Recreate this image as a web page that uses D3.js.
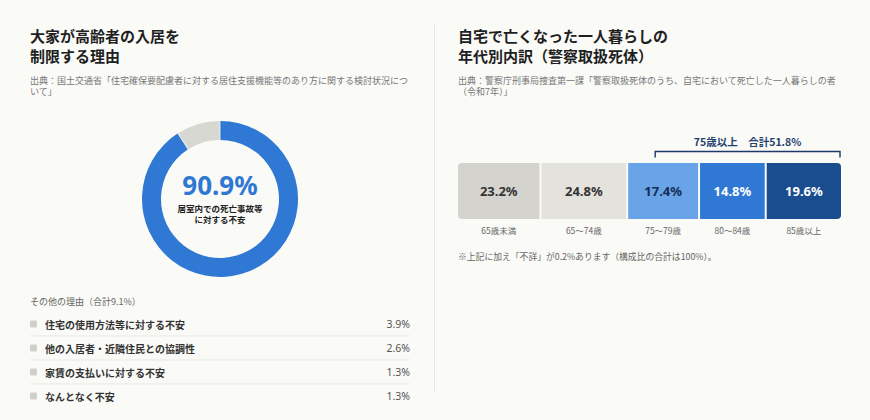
<!DOCTYPE html>
<html lang="ja">
<head>
<meta charset="utf-8">
<script src="https://cdn.jsdelivr.net/npm/d3@7"></script>
<style>
  html, body { margin: 0; padding: 0; background: #fafaf7; }
  svg { display: block; font-family: "Noto Sans CJK JP", "Noto Sans", sans-serif; }
</style>
</head>
<body>
<div id="chart"></div>
<script>
// left panel: donut + other reasons
const mainShare = 90.9;
const otherShare = 9.1;
const otherReasons = ["住宅の使用方法等に対する不安", "他の入居者・近隣住民との協調性", "家賃の支払いに対する不安", "なんとなく不安"];
const otherValues = [3.9, 2.6, 1.3, 1.3];

// right panel: age breakdown
const ageGroups = ["65歳未満", "65〜74歳", "75〜79歳", "80〜84歳", "85歳以上"];
const ageValues = [23.2, 24.8, 17.4, 14.8, 19.6];
const unknownShare = 0.2;
const bracketFrom = 2; // 75歳以上

const width = 870, height = 420;
const svg = d3.select("#chart").append("svg")
  .attr("width", width).attr("height", height);

svg.append("rect").attr("width", width).attr("height", height).attr("fill", "#fafaf7");

// divider
svg.append("line")
  .attr("x1", 434.5).attr("x2", 434.5).attr("y1", 24).attr("y2", 392)
  .attr("stroke", "#e6e6e1").attr("stroke-width", 1);

function titleBlock(x, lines, source) {
  const g = svg.append("g");
  g.selectAll(".t").data(lines).join("text")
    .attr("x", x).attr("y", (d, i) => 42 + i * 20)
    .attr("font-size", 15).attr("font-weight", 700).attr("fill", "#1f1f1f")
    .text(d => d);
  g.selectAll(".s").data(source).join("text")
    .attr("x", x).attr("y", (d, i) => 83.5 + i * 11.5)
    .attr("font-size", 9).attr("fill", "#777")
    .text(d => d);
}

titleBlock(30, ["大家が高齢者の入居を", "制限する理由"],
  ["出典：国土交通省「住宅確保要配慮者に対する居住支援機能等のあり方に関する検討状況につ", "いて」"]);
titleBlock(458, ["自宅で亡くなった一人暮らしの", "年代別内訳（警察取扱死体）"],
  ["出典：警察庁刑事局捜査第一課「警察取扱死体のうち、自宅において死亡した一人暮らしの者", "（令和7年）」"]);

// ---- donut ----
const cx = 220, cy = 199;
const pie = d3.pie().sort(null).value(d => d.v);
const arcs = pie([{ k: "main", v: mainShare }, { k: "other", v: otherShare }]);
const arc = d3.arc().innerRadius(59).outerRadius(78).padAngle(0.008);
const donut = svg.append("g").attr("transform", `translate(${cx},${cy})`);
donut.selectAll("path").data(arcs).join("path")
  .attr("d", arc)
  .attr("fill", d => d.data.k === "main" ? "#2f78d4" : "#d8d8d3");

donut.append("text")
  .attr("y", -14).attr("text-anchor", "middle").attr("dominant-baseline", "central")
  .attr("font-size", 26).attr("font-weight", 700).attr("fill", "#2f78d2")
  .attr("font-family", "'Noto Sans', sans-serif")
  .text(d3.format(".1f")(mainShare) + "%");
donut.selectAll(".cap").data(["居室内での死亡事故等", "に対する不安"]).join("text")
  .attr("y", (d, i) => 9 + i * 10.5).attr("text-anchor", "middle").attr("dominant-baseline", "central")
  .attr("font-size", 8.5).attr("font-weight", 700).attr("fill", "#222")
  .text(d => d);

// ---- other reasons list ----
const listX0 = 30, listX1 = 410;
svg.append("text")
  .attr("x", listX0).attr("y", 301).attr("dominant-baseline", "central")
  .attr("font-size", 9).attr("fill", "#666")
  .text(`その他の理由（合計${otherShare}%）`);

const rowY = d3.scalePoint().domain(otherReasons).range([324, 396]);
const rows = svg.selectAll(".row").data(otherReasons).join("g")
  .attr("transform", d => `translate(0,${rowY(d)})`);
rows.append("rect")
  .attr("x", listX0).attr("y", -3.5).attr("width", 7).attr("height", 7).attr("rx", 1.5)
  .attr("fill", "#cfcfcb");
rows.append("text")
  .attr("x", 45).attr("dominant-baseline", "central")
  .attr("font-size", 10).attr("font-weight", 700).attr("fill", "#333")
  .text(d => d);
rows.append("text")
  .attr("x", listX1).attr("text-anchor", "end").attr("dominant-baseline", "central")
  .attr("font-size", 10.5).attr("fill", "#555")
  .attr("font-family", "'Noto Sans', sans-serif")
  .text((d, i) => otherValues[i].toFixed(1) + "%");
rows.filter((d, i) => i < otherReasons.length - 1).append("line")
  .attr("x1", listX0).attr("x2", listX1).attr("y1", 12).attr("y2", 12)
  .attr("stroke", "#e7e7e3").attr("stroke-width", 1);

// ---- stacked age bar ----
const barX0 = 458, barX1 = 841, barTop = 163, barH = 56;
const gap = 2, base = 35;
const n = ageValues.length;
const x = d3.scaleLinear()
  .domain([0, d3.sum(ageValues)])
  .range([0, barX1 - barX0 - gap * (n - 1) - base * n]);

const segs = [];
let pos = barX0;
ageValues.forEach((v, i) => {
  const w = base + x(v);
  segs.push({ name: ageGroups[i], v, x: pos, w });
  pos += w + gap;
});

const barColors = ["#d4d3ce", "#e3e2dd", "#69a4e8", "#2f78d4", "#1a4d8f"];
const textColors = ["#333", "#333", "#172c57", "#fff", "#fff"];

svg.append("clipPath").attr("id", "barclip")
  .append("rect")
  .attr("x", barX0).attr("y", barTop).attr("width", barX1 - barX0).attr("height", barH).attr("rx", 4);

const bars = svg.append("g").attr("clip-path", "url(#barclip)");
bars.selectAll("rect").data(segs).join("rect")
  .attr("x", d => d.x).attr("y", barTop).attr("width", d => d.w).attr("height", barH)
  .attr("fill", (d, i) => barColors[i]);

svg.selectAll(".val").data(segs).join("text")
  .attr("x", d => d.x + d.w / 2).attr("y", barTop + barH / 2)
  .attr("text-anchor", "middle").attr("dominant-baseline", "central")
  .attr("font-size", 13).attr("font-weight", 700)
  .attr("font-family", "'Noto Sans', sans-serif")
  .attr("fill", (d, i) => textColors[i])
  .text(d => d.v.toFixed(1) + "%");

svg.selectAll(".cat").data(segs).join("text")
  .attr("x", d => d.x + d.w / 2).attr("y", 230)
  .attr("text-anchor", "middle").attr("dominant-baseline", "central")
  .attr("font-size", 8.5).attr("fill", "#666")
  .text(d => d.name);

// bracket over 75+
const bx0 = segs[bracketFrom].x + 27, bx1 = barX1 - 1;
svg.append("path")
  .attr("d", `M${bx0},157.5V151.5H${bx1}V157.5`)
  .attr("fill", "none").attr("stroke", "#1e3a68").attr("stroke-width", 1.4);
const over75 = d3.sum(ageValues.slice(bracketFrom));
svg.append("text")
  .attr("x", (bx0 + bx1) / 2).attr("y", 141.5)
  .attr("text-anchor", "middle").attr("dominant-baseline", "central")
  .attr("font-size", 10.5).attr("font-weight", 700).attr("fill", "#23406e")
  .text(`75歳以上　合計${over75.toFixed(1)}%`);

svg.append("text")
  .attr("x", barX0).attr("y", 256).attr("dominant-baseline", "central")
  .attr("font-size", 8.8).attr("fill", "#666")
  .text(`※上記に加え「不詳」が${unknownShare}%あります（構成比の合計は100%）。`);
</script>
</body>
</html>
